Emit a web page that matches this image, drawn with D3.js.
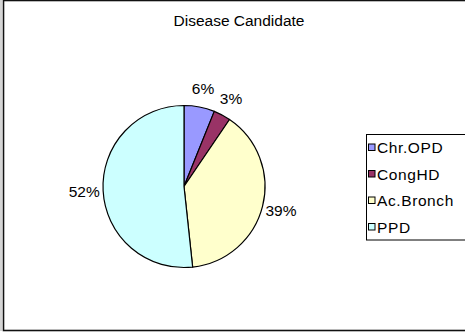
<!DOCTYPE html>
<html><head><meta charset="utf-8">
<script src="https://cdn.jsdelivr.net/npm/d3@7"></script>
<style>html,body{margin:0;padding:0;background:#fff;}svg{display:block;}</style>
</head><body>
<script>
const title = "Disease Candidate";
const categories = ["Chr.OPD", "CongHD", "Ac.Bronch", "PPD"];
const values = [6.1, 3.4, 38.8, 51.7];
const colors = ["#9999FF", "#993366", "#FFFFCC", "#CCFFFF"];

const W = 465, H = 334;
const svg = d3.select("body").append("svg").attr("width", W).attr("height", H);
const font = "'Liberation Sans', Arial, sans-serif";

// chart border
svg.append("line").attr("x1", 1).attr("x2", 1).attr("y1", 0).attr("y2", 331)
  .attr("stroke", "#aaa").attr("stroke-width", 1);
svg.append("rect").attr("x", 3.5).attr("y", 0.5).attr("width", 520).attr("height", 330)
  .attr("fill", "none").attr("stroke", "#111").attr("stroke-width", 1.6);

svg.append("text").attr("x", 239).attr("y", 26).attr("text-anchor", "middle")
  .attr("font-family", font).attr("font-size", 15.5).attr("fill", "#000").text(title);

const cx = 184, cy = 186.5, r = 81;
const total = d3.sum(values);
const pie = d3.pie().sort(null).value(d => d)(values);
const arc = d3.arc().innerRadius(0).outerRadius(r);
const g = svg.append("g").attr("transform", `translate(${cx},${cy})`);
g.selectAll("path").data(pie).join("path")
  .attr("d", arc).attr("fill", (d, i) => colors[i])
  .attr("stroke", "#000").attr("stroke-width", 1.2).attr("stroke-linejoin", "round");

const labelR = 100;
g.selectAll("text").data(pie).join("text")
  .attr("x", d => Math.sin((d.startAngle + d.endAngle) / 2) * labelR)
  .attr("y", d => -Math.cos((d.startAngle + d.endAngle) / 2) * labelR)
  .attr("text-anchor", "middle").attr("dominant-baseline", "central")
  .attr("font-family", font).attr("font-size", 15.5).attr("fill", "#000")
  .text(d => Math.round(d.value / total * 100) + "%");

// legend
const lx = 366, ly = 134.5, step = 26.5;
svg.append("rect").attr("x", lx + 0.5).attr("y", ly).attr("width", 200).attr("height", 105.5)
  .attr("fill", "#fff").attr("stroke", "#000").attr("stroke-width", 1);
const lg = svg.append("g").selectAll("g").data(categories).join("g")
  .attr("transform", (d, i) => `translate(${lx},${ly + 13 + i * step})`);
lg.append("rect").attr("x", 2.5).attr("y", -3.5).attr("width", 6.5).attr("height", 6.5)
  .attr("fill", (d, i) => colors[i]).attr("stroke", "#000").attr("stroke-width", 1);
lg.append("text").attr("x", 11).attr("y", 0).attr("dominant-baseline", "central")
  .attr("font-family", font).attr("font-size", 15.5).attr("letter-spacing", 0.6)
  .attr("fill", "#000").text(d => d);
</script>
</body></html>
